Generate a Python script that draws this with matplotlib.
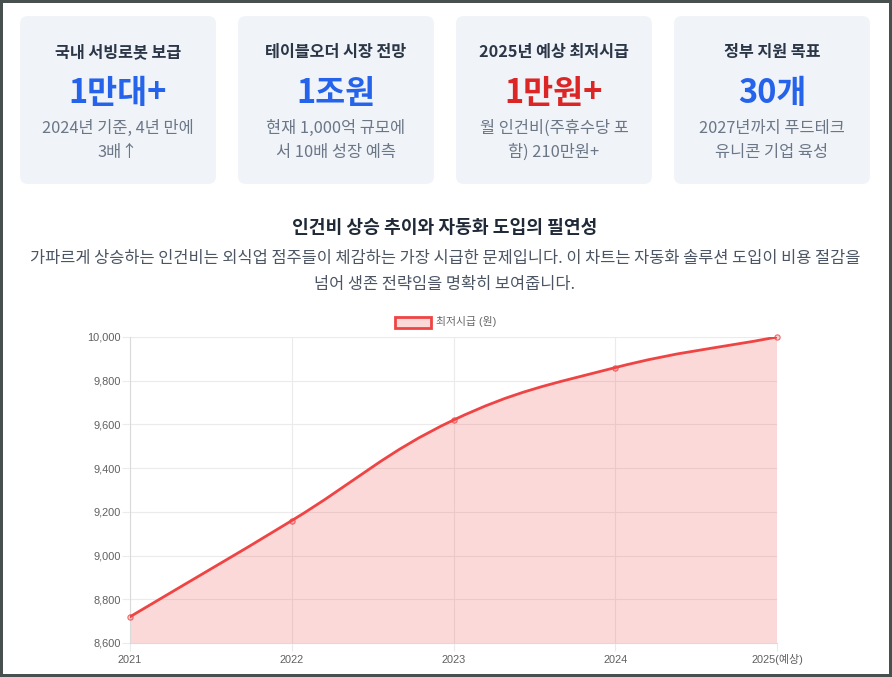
import matplotlib
matplotlib.use("Agg")
import matplotlib.pyplot as plt
from matplotlib.patches import FancyBboxPatch, Rectangle, PathPatch
from matplotlib.path import Path
from matplotlib.ticker import FuncFormatter

W, H = 892, 677
FONT = ["Noto Sans CJK JP", "Noto Sans CJK KR", "Noto Sans CJK SC", "DejaVu Sans"]
TICK_FONT = ["Liberation Sans", "Noto Sans CJK JP", "Noto Sans CJK KR", "DejaVu Sans"]
plt.rcParams["font.family"] = FONT

card_titles = ["국내 서빙로봇 보급", "테이블오더 시장 전망", "2025년 예상 최저시급", "정부 지원 목표"]
card_values = ["1만대+", "1조원", "1만원+", "30개"]
card_value_colors = ["#2563eb", "#2563eb", "#dc2626", "#2563eb"]
card_notes = [["2024년 기준, 4년 만에", "3배↑"],
              ["현재 1,000억 규모에", "서 10배 성장 예측"],
              ["월 인건비(주휴수당 포", "함) 210만원+"],
              ["2027년까지 푸드테크", "유니콘 기업 육성"]]
heading = "인건비 상승 추이와 자동화 도입의 필연성"
subtext = ["가파르게 상승하는 인건비는 외식업 점주들이 체감하는 가장 시급한 문제입니다. 이 차트는 자동화 솔루션 도입이 비용 절감을",
           "넘어 생존 전략임을 명확히 보여줍니다."]
years = ["2021", "2022", "2023", "2024", "2025(예상)"]
wage = [8720, 9160, 9620, 9860, 10000]
series_name = "최저시급 (원)"
y_ticks = [8600, 8800, 9000, 9200, 9400, 9600, 9800, 10000]

fig = plt.figure(figsize=(W / 100, H / 100), dpi=100, facecolor="white")
bg = fig.add_axes([0, 0, 1, 1])
bg.set_xlim(0, W); bg.set_ylim(H, 0); bg.axis("off")

border = "#474f4f"
for r in [(0, 0, W, 3), (0, H - 3, W, 3), (0, 0, 3, H), (W - 3, 0, 3, H)]:
    bg.add_patch(Rectangle((r[0], r[1]), r[2], r[3], fc=border, ec="none", zorder=5))

for i, cx0 in enumerate([20, 238, 456, 674]):
    bg.add_patch(FancyBboxPatch((cx0 + 8, 24), 180, 152,
                                boxstyle="round,pad=8,rounding_size=8", fc="#f0f4f9", ec="none"))
    cx = cx0 + 98
    bg.text(cx, 57, card_titles[i], ha="center", va="baseline", fontsize=11.7,
            fontweight="bold", color="#2b3647")
    bg.text(cx, 102.5, card_values[i], ha="center", va="baseline", fontsize=23.5,
            fontweight="bold", color=card_value_colors[i])
    bg.text(cx, 133, card_notes[i][0], ha="center", va="baseline", fontsize=11.8, color="#6b7686")
    bg.text(cx, 156.5, card_notes[i][1], ha="center", va="baseline", fontsize=11.8, color="#6b7686")

bg.text(445, 233, heading, ha="center", va="baseline", fontsize=13.1, fontweight="bold", color="#1f2937")
bg.text(445, 263.5, subtext[0], ha="center", va="baseline", fontsize=11.82, color="#4b5563")
bg.text(445, 288.5, subtext[1], ha="center", va="baseline", fontsize=11.82, color="#4b5563")

# legend
bg.add_patch(Rectangle((394.5, 316.5), 36, 11, fc="#fbd9d9", ec="#ef4444", lw=2))
bg.text(436, 321.5, series_name, ha="left", va="center", fontsize=7.8, color="#666666",
        fontfamily=TICK_FONT)

L, R, T, B = 130, 777, 337, 643
ax = fig.add_axes([L / W, 1 - B / H, (R - L) / W, (B - T) / H])
ax.set_xlim(0, len(years) - 1)
ax.set_ylim(y_ticks[0], y_ticks[-1])
ax.patch.set_alpha(0)

# Chart.js style spline through the data (tension 0.4, computed in pixel proportions)
xs = list(range(len(wage)))
sx, sy = (R - L) / (len(years) - 1), (B - T) / (y_ticks[-1] - y_ticks[0])
tension = 0.4
c_prev, c_next = [], []
for i in xs:
    p = max(i - 1, 0); n = min(i + 1, len(xs) - 1)
    d1 = ((xs[i] - xs[p]) ** 2 * sx ** 2 + (wage[i] - wage[p]) ** 2 * sy ** 2) ** 0.5
    d2 = ((xs[n] - xs[i]) ** 2 * sx ** 2 + (wage[n] - wage[i]) ** 2 * sy ** 2) ** 0.5
    fa = tension * d1 / (d1 + d2); fb = tension * d2 / (d1 + d2)
    c_prev.append((xs[i] - fa * (xs[n] - xs[p]), min(wage[i] - fa * (wage[n] - wage[p]), y_ticks[-1])))
    c_next.append((xs[i] + fb * (xs[n] - xs[p]), min(wage[i] + fb * (wage[n] - wage[p]), y_ticks[-1])))
verts = [(xs[0], wage[0])]
codes = [Path.MOVETO]
for i in xs[:-1]:
    verts += [c_next[i], c_prev[i + 1], (xs[i + 1], wage[i + 1])]
    codes += [Path.CURVE4] * 3

fill_verts = verts + [(xs[-1], y_ticks[0]), (xs[0], y_ticks[0]), (xs[0], wage[0])]
fill_codes = codes + [Path.LINETO, Path.LINETO, Path.CLOSEPOLY]
ax.add_patch(PathPatch(Path(fill_verts, fill_codes), fc="#ef4444", alpha=0.2, ec="none", zorder=2))
ax.add_patch(PathPatch(Path(verts, codes), fc="none", ec="#ef4444", lw=2.0, zorder=3, capstyle="round"))
ax.plot(xs, wage, ls="none", marker="o", ms=3.8, mfc=(0.94, 0.27, 0.27, 0.25),
        mec=(0.94, 0.27, 0.27, 0.8), mew=0.8, zorder=4, clip_on=False)

ax.set_xticks(xs)
ax.set_xticklabels(years)
ax.set_yticks(y_ticks)
ax.yaxis.set_major_formatter(FuncFormatter(lambda v, _: f"{int(v):,}"))
ax.set_axisbelow(True)
ax.grid(True, color="#ebebeb", lw=0.8, zorder=0)
for s in ax.spines.values():
    s.set_visible(False)
ax.spines["left"].set_visible(True); ax.spines["left"].set_color("#dadada"); ax.spines["left"].set_linewidth(0.8)
ax.spines["bottom"].set_visible(True); ax.spines["bottom"].set_color("#dadada"); ax.spines["bottom"].set_linewidth(0.8)
ax.tick_params(axis="both", length=6, width=0.8, color="#ebebeb", labelcolor="#606060", labelsize=7.9, pad=0.6)
ax.tick_params(axis="x", pad=8.4)
for lab in ax.get_xticklabels():
    lab.set_fontfamily(TICK_FONT)
    lab.set_verticalalignment("baseline")
for lab in ax.get_yticklabels():
    lab.set_fontfamily(TICK_FONT)
    lab.set_verticalalignment("center_baseline")

fig.savefig("out.png", dpi=100, facecolor="white")
